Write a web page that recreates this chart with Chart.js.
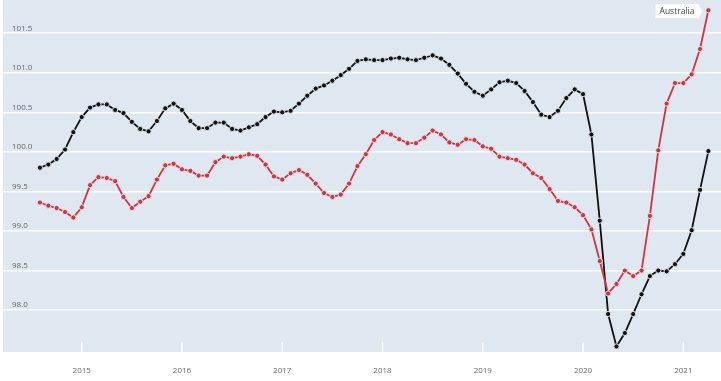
<!DOCTYPE html>
<html lang="en">
<head>
    <meta charset="UTF-8">
    <title>Australia</title>
    <script src="https://cdn.jsdelivr.net/npm/chart.js"></script>
    <style>
        html, body { margin: 0; padding: 0; background: #fff; }
        #wrap { width: 721px; height: 381px; }
    </style>
</head>
<body>
    <div id="wrap"><canvas id="chart" width="721" height="381"></canvas></div>

    <script>
        // monthly, Aug 2014 .. Apr 2021
        const startYear = 2014, startMonth = 8;
        const blackValues = [
            99.80, 99.84, 99.91, 100.03, 100.25, 100.44, 100.56, 100.60, 100.60, 100.53,
            100.49, 100.38, 100.29, 100.26, 100.39, 100.55, 100.61, 100.53, 100.39, 100.30,
            100.30, 100.37, 100.37, 100.29, 100.27, 100.31, 100.35, 100.44, 100.51, 100.50,
            100.52, 100.61, 100.71, 100.80, 100.84, 100.90, 100.97, 101.05, 101.15, 101.17,
            101.16, 101.16, 101.18, 101.19, 101.17, 101.16, 101.19, 101.22, 101.18, 101.10,
            100.99, 100.86, 100.76, 100.71, 100.79, 100.88, 100.90, 100.87, 100.77, 100.63,
            100.47, 100.44, 100.52, 100.68, 100.79, 100.73, 100.22, 99.13, 97.95, 97.54,
            97.71, 97.95, 98.20, 98.43, 98.50, 98.49, 98.58, 98.71, 99.01, 99.52,
            100.01
        ];
        const australiaValues = [
            99.36, 99.32, 99.29, 99.24, 99.17, 99.30, 99.58, 99.68, 99.67, 99.63,
            99.43, 99.29, 99.37, 99.44, 99.65, 99.83, 99.85, 99.78, 99.76, 99.70,
            99.70, 99.87, 99.94, 99.92, 99.94, 99.97, 99.95, 99.84, 99.69, 99.65,
            99.73, 99.77, 99.71, 99.60, 99.48, 99.43, 99.46, 99.60, 99.82, 99.97,
            100.15, 100.25, 100.22, 100.16, 100.11, 100.11, 100.18, 100.27, 100.22, 100.12,
            100.09, 100.16, 100.15, 100.07, 100.04, 99.94, 99.92, 99.90, 99.84, 99.73,
            99.67, 99.53, 99.38, 99.36, 99.30, 99.20, 99.02, 98.62, 98.21, 98.33,
            98.50, 98.43, 98.50, 99.19, 100.02, 100.61, 100.87, 100.87, 100.98, 101.30,
            101.79
        ];
        const yearTicks = [2015, 2016, 2017, 2018, 2019, 2020, 2021];
        const yTicks = [98.0, 98.5, 99.0, 99.5, 100.0, 100.5, 101.0, 101.5];
        const seriesLabel = 'Australia';

        // month index of the first of January of a year
        const yearIndex = y => (y - startYear) * 12 - (startMonth - 1);
        const toPoints = vals => vals.map((v, i) => ({ x: i, y: v }));

        const plotBg = '#dfe7f0';
        const red = '#d2333d';
        const dark = '#111111';

        const noPad = axis => {
            axis.paddingLeft = 0; axis.paddingRight = 0;
            axis.paddingTop = 0; axis.paddingBottom = 0;
        };

        const bgPlugin = {
            id: 'bg',
            beforeDraw(chart) {
                const { ctx, chartArea: a } = chart;
                ctx.save();
                ctx.fillStyle = plotBg;
                ctx.fillRect(a.left, a.top, a.right - a.left, a.bottom - a.top);
                ctx.restore();
            },
            beforeDatasetsDraw(chart) {
                const { ctx, chartArea: a, scales } = chart;
                ctx.save();
                ctx.strokeStyle = '#ffffff';
                ctx.lineWidth = 1.5;
                scales.x.ticks.forEach(t => {
                    const px = scales.x.getPixelForValue(t.value);
                    ctx.beginPath();
                    ctx.moveTo(px, a.bottom - 10);
                    ctx.lineTo(px, a.bottom);
                    ctx.stroke();
                });
                ctx.restore();
            }
        };

        const tagPlugin = {
            id: 'tag',
            afterDatasetsDraw(chart) {
                const meta = chart.getDatasetMeta(0);
                const pt = meta.data[meta.data.length - 1];
                const ctx = chart.ctx;
                ctx.save();
                ctx.font = '8.5px "Open Sans"';
                const w = ctx.measureText(seriesLabel).width + 8;
                const h = 14;
                const right = pt.x - 10;
                const left = right - w;
                const top = pt.y - 6;
                ctx.fillStyle = '#ffffff';
                ctx.beginPath();
                ctx.moveTo(left, top);
                ctx.lineTo(right, top);
                ctx.lineTo(right + 4, top + h / 2);
                ctx.lineTo(right, top + h);
                ctx.lineTo(left, top + h);
                ctx.closePath();
                ctx.fill();
                ctx.fillStyle = '#444';
                ctx.textBaseline = 'middle';
                ctx.fillText(seriesLabel, left + 4, top + h / 2 + 0.5);
                ctx.restore();
            }
        };

        new Chart(document.getElementById('chart'), {
            type: 'line',
            data: {
                datasets: [
                    {
                        label: seriesLabel,
                        data: toPoints(australiaValues),
                        borderColor: red,
                        backgroundColor: red,
                        borderWidth: 1.8,
                        pointRadius: 2.6,
                        pointBorderWidth: 1,
                        pointBorderColor: 'rgba(225,232,240,0.95)',
                        pointBackgroundColor: red,
                        tension: 0
                    },
                    {
                        label: 'Other',
                        data: toPoints(blackValues),
                        borderColor: dark,
                        backgroundColor: dark,
                        borderWidth: 1.8,
                        pointRadius: 2.6,
                        pointBorderWidth: 1,
                        pointBorderColor: 'rgba(225,232,240,0.95)',
                        pointBackgroundColor: dark,
                        tension: 0
                    }
                ]
            },
            options: {
                responsive: false,
                animation: false,
                layout: { padding: 0, autoPadding: false },
                plugins: { legend: { display: false }, tooltip: { enabled: false } },
                scales: {
                    x: {
                        type: 'linear',
                        min: -4.42,
                        max: 81.51,
                        grid: { display: false },
                        border: { display: false },
                        afterBuildTicks: axis => { axis.ticks = yearTicks.map(y => ({ value: yearIndex(y) })); },
                        afterFit: axis => { axis.height = 29; noPad(axis); },
                        ticks: {
                            padding: 6,
                            color: '#666',
                            font: { family: 'Open Sans', size: 8 },
                            maxRotation: 0,
                            callback: v => String(startYear + Math.floor((v + startMonth - 1) / 12))
                        }
                    },
                    y: {
                        min: 97.47,
                        max: 101.92,
                        border: { display: false },
                        grid: { color: '#ffffff', lineWidth: 1.5, drawTicks: false },
                        afterBuildTicks: axis => { axis.ticks = yTicks.map(v => ({ value: v })); },
                        afterFit: axis => { axis.width = 3; noPad(axis); },
                        ticks: {
                            mirror: true,
                            padding: 9,
                            labelOffset: -5,
                            color: '#666',
                            font: { family: 'Open Sans', size: 8 },
                            callback: v => v.toFixed(1)
                        }
                    }
                }
            },
            plugins: [bgPlugin, tagPlugin]
        });
    </script>
</body>
</html>
